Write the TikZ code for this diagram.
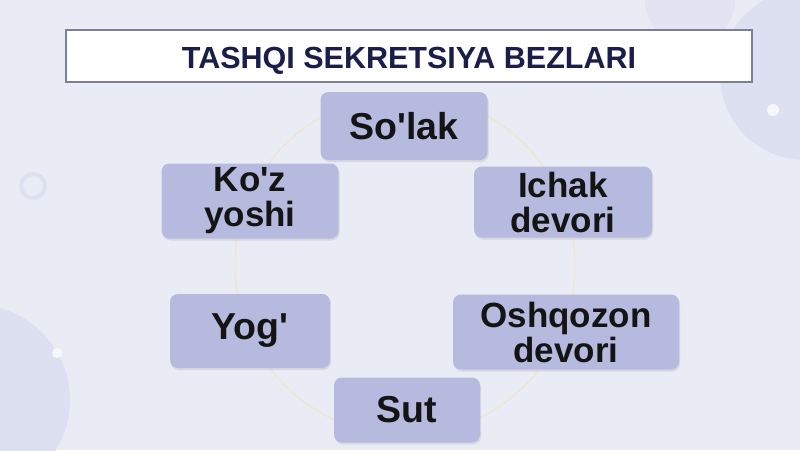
\documentclass[tikz,border=0pt]{standalone}
\usepackage{fontspec}
\setmainfont{Liberation Sans}[Ligatures=TeXOff]
\usetikzlibrary{shadows}
\definecolor{bgcol}{HTML}{E9EBF5}
\definecolor{blobcol}{HTML}{DDE0F0}
\definecolor{boxcol}{HTML}{B6BADF}
\definecolor{framecol}{HTML}{7B7F99}
\definecolor{titlecol}{HTML}{1B1E4B}
\definecolor{ringcol}{HTML}{EDE7C6}
\begin{document}
\begin{tikzpicture}[
    x=1pt,y=-1pt,
    gland/.style={fill=boxcol,rounded corners=8pt,inner sep=0pt,align=center,
                  text=black!92,font=\bfseries\fontsize{35}{35}\selectfont,
                  drop shadow={opacity=0.18,shadow xshift=1pt,shadow yshift=-2pt}},
    single/.style={gland,font=\bfseries\fontsize{37.5}{37.5}\selectfont}
  ]
  % background
  \fill[bgcol] (0,0) rectangle (800,450);
  \useasboundingbox (0,0) rectangle (800,450);
  \fill[blobcol] (-25,400) circle (95);
  \fill[blobcol] (805,75) circle (85);
  \fill[blobcol!60!bgcol] (690,0) circle (45);
  \draw[blobcol,line width=4pt] (33,186) circle (12);
  \fill[bgcol!40!white] (57,353) circle (5);
  \fill[bgcol!40!white] (773,110) circle (6);

  % ring behind the boxes
  \coordinate (ring) at (405,265);
  \draw[ringcol,line width=1pt] (ring) circle (170);

  % title
  \node[draw=framecol,line width=1.2pt,fill=white,minimum width=686pt,minimum height=52pt,
        text=titlecol,font=\bfseries\fontsize{30.5}{30.5}\selectfont] (title) at (409,56) {};
  \node[text=titlecol,font=\bfseries\fontsize{30.5}{30.5}\selectfont,anchor=base]
        (titletext) at (409,68) {TASHQI SEKRETSIYA BEZLARI};

  % glands
  \node[single,minimum width=167pt,minimum height=68pt] (solak) at (404,126) {So'lak};
  \node[gland,minimum width=177pt,minimum height=75pt] (koz) at (250,201) {Ko'z\\yoshi};
  \node[gland,minimum width=178pt,minimum height=71pt] (ichak) at (563,202) {Ichak\\devori};
  \node[single,minimum width=160pt,minimum height=74pt] (yog) at (250,331) {Yog'};
  \node[gland,minimum width=226pt,minimum height=75pt] (oshqozon) at (566,332) {Oshqozon\\devori};
  \node[single,minimum width=146pt,minimum height=65pt] (sut) at (407,410) {Sut};
\end{tikzpicture}
\end{document}
